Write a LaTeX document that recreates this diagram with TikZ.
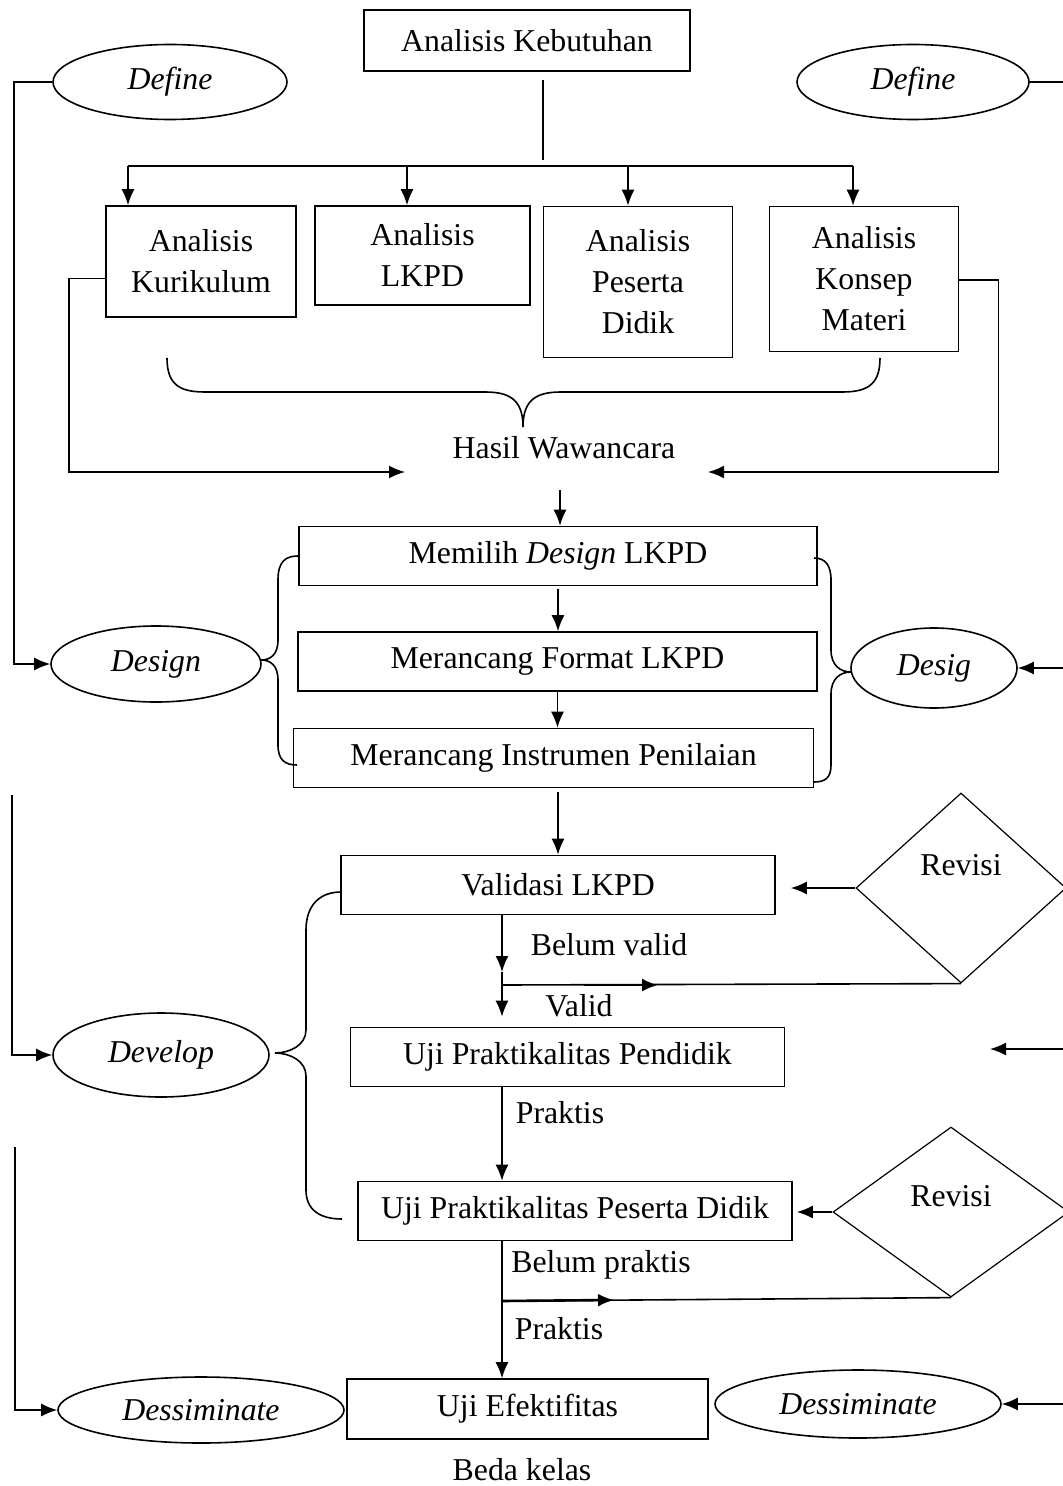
\documentclass[tikz,border=0pt]{standalone}
\usepackage{fontspec}
\setmainfont{Liberation Serif}
\usetikzlibrary{shapes.geometric, arrows.meta, positioning, calc}

\begin{document}
\begin{tikzpicture}[x=0.5pt, y=-0.5pt, font=\fontsize{15.9}{20.5}\selectfont,
    line width=0.8pt,
    blk/.style={draw, align=center, inner sep=0pt},
    elp/.style={draw, ellipse, inner sep=0pt, font=\fontsize{15.9}{20.5}\selectfont\itshape},
    rev/.style={draw, diamond, inner sep=0pt, line width=0.6pt},
    arrow/.style={-{Latex[length=8pt, width=6.5pt]}}]
    \useasboundingbox (0,0) rectangle (1063,1486);
    \clip (0,0) rectangle (1063,1486);

    % define
    \node[blk, minimum width=163pt, minimum height=30.5pt] (keb) at (527,40.5) {Analisis Kebutuhan};
    \node[elp, minimum width=117pt, minimum height=37.5pt] (defL) at (170,82) {Define};
    \node[elp, minimum width=116pt, minimum height=37.5pt] (defR) at (913,82) {Define};
    \node[blk, minimum width=95pt, minimum height=55.5pt] (kur) at (201,261.5) {Analisis\\Kurikulum};
    \node[blk, minimum width=107.5pt, minimum height=49.5pt] (lkpd) at (422.5,255.5) {Analisis\\LKPD};
    \node[blk, minimum width=94.5pt, minimum height=75.5pt] (psd) at (638,282) {Analisis\\Peserta\\Didik};
    \node[blk, minimum width=94.5pt, minimum height=72.5pt] (kon) at (864,279) {Analisis\\Konsep\\Materi};
    \node (has) at (564,448) {Hasil Wawancara};

    % design
    \node[blk, minimum width=259pt, minimum height=29.5pt] (mem) at (558,556) {Memilih \textit{Design} LKPD};
    \node[blk, minimum width=259.5pt, minimum height=29.5pt] (fmt) at (557.5,661.5) {Merancang Format LKPD};
    \node[blk, minimum width=260pt, minimum height=29.5pt] (ins) at (553.5,758) {Merancang Instrumen Penilaian};
    \node[elp, minimum width=105pt, minimum height=38pt] (desL) at (156,664) {Design};
    \node[elp, minimum width=83pt, minimum height=40pt] (desR) at (934,668) {Desig};

    % develop
    \node[blk, minimum width=217pt, minimum height=29.5pt] (val) at (558,885) {Validasi LKPD};
    \node[blk, minimum width=217pt, minimum height=29.5pt] (upp) at (567.5,1057) {Uji Praktikalitas Pendidik};
    \node[blk, minimum width=217pt, minimum height=29.5pt] (upd) at (575,1211) {Uji Praktikalitas Peserta Didik};
    \node[elp, minimum width=108pt, minimum height=42pt] (devL) at (161,1055) {Develop};
    \node[rev, minimum width=105pt, minimum height=95pt, label={[yshift=11.5pt]center:Revisi}] (revA) at (961,888) {};
    \node[rev, minimum width=118pt, minimum height=85pt, label={[yshift=8pt]center:Revisi}] (revB) at (951,1212) {};
    \node (bv) at (609,945) {Belum valid};
    \node (vl) at (579,1006) {Valid};
    \node (pr1) at (560,1113) {Praktis};
    \node (bp) at (601,1265) {Belum praktis};
    \node (pr2) at (559,1329) {Praktis};

    % dessiminate
    \node[blk, minimum width=180.5pt, minimum height=30pt] (uef) at (527.5,1409) {Uji Efektifitas};
    \node[elp, minimum width=143pt, minimum height=33pt] (disL) at (201,1410) {Dessiminate};
    \node[elp, minimum width=143pt, minimum height=34pt] (disR) at (858,1404) {Dessiminate};
    \node (bk) at (522,1470) {Beda kelas};

    % analisis kebutuhan -> four analyses
    \coordinate (kbA) at (543,80);
    \coordinate (kbB) at (543,160);
    \draw (kbA) -- (kbB);
    \coordinate (b1) at (128,166);
    \coordinate (b2) at (407,166);
    \coordinate (b3) at (628,166);
    \coordinate (b4) at (853,166);
    \draw (b1) -- (b4);
    \draw[arrow] (b1) -- (b1 |- kur.north);
    \draw[arrow] (b2) -- (b2 |- lkpd.north);
    \draw[arrow] (b3) -- (b3 |- psd.north);
    \draw[arrow] (b4) -- (b4 |- kon.north);

    % brace to hasil wawancara
    \draw (167,358) .. controls (167,385) and (180,392) .. (205,392) -- (485,392)
        .. controls (510,392) and (523,400) .. (523,427)
        .. controls (523,400) and (536,392) .. (561,392) -- (842,392)
        .. controls (867,392) and (880,385) .. (880,358);
    \coordinate (hL) at (405,472);
    \coordinate (hR) at (708,472);
    \draw[arrow] ($(kur.west)+(0,17)$) -- ++(-36,0) |- (hL);
    \draw[arrow] ($(kon.east)+(0,1)$) -- ++(39,0) |- (hR);

    % design steps
    \coordinate (hA) at (560,490);
    \draw[arrow] (hA) -- (hA |- mem.north);
    \draw[arrow, shorten <=1.5pt] (mem.south) -- (mem.south |- fmt.north);
    \draw[arrow] (fmt.south) -- (fmt.south |- ins.north);
    \draw (298,556) .. controls (285,556) and (278,562) .. (278,580) -- (278,640)
        .. controls (278,655) and (270,660) .. (261,660)
        .. controls (270,660) and (278,665) .. (278,680) -- (278,745)
        .. controls (278,760) and (285,765) .. (297,765);
    \draw (814,558) .. controls (825,558) and (831,565) .. (831,580) -- (831,650)
        .. controls (831,665) and (840,672) .. (851,672)
        .. controls (840,672) and (831,679) .. (831,694) -- (831,765)
        .. controls (831,778) and (825,782) .. (814,782);

    % develop steps
    \draw[arrow, shorten <=2pt] (ins.south -| val.north) -- (val.north);
    \coordinate (vS) at (502,985);
    \draw[arrow] (val.south -| vS) -- ($(vS)+(0,-13)$);
    \draw ($(vS)+(0,-13)$) -- (vS);
    \draw (vS) -- (revA.south);
    \draw[arrow, line width=1.1pt] ($(vS)+(82,0)$) -- ($(vS)+(156,0)$);
    \draw[arrow, shorten >=5pt] (vS) -- (vS |- upp.north);
    \draw[arrow, shorten >=7.5pt] (revA.west) -- (revA.west -| val.east);

    \coordinate (pS) at (502,1301);
    \draw[arrow] (upp.south -| pS) -- (upd.north -| pS);
    \draw (upd.south -| pS) -- (pS);
    \draw (pS) -- (revB.south);
    \draw[arrow, line width=1.3pt] (pS) -- ($(pS)+(112,-1)$);
    \draw[arrow] (pS) -- (pS |- uef.north);
    \draw[arrow, shorten >=2pt] (revB.west) -- (revB.west -| upd.east);

    \draw (341,892) .. controls (320,892) and (306,905) .. (306,930) -- (306,1030)
        .. controls (306,1045) and (290,1053) .. (275,1053)
        .. controls (290,1053) and (306,1061) .. (306,1076) -- (306,1190)
        .. controls (306,1210) and (320,1219) .. (342,1219);

    % phase lines on the sides
    \draw[arrow] (defL.west) -- ++(-38,0) |- (desL.west);
    \coordinate (lA) at (12,795);
    \draw[arrow] (lA) |- (devL.west);
    \coordinate (lB) at (15,1147);
    \draw[arrow] (lB) |- (disL.west);
    \coordinate (rA) at (1063,82);
    \draw (defR.east) -- (rA);
    \coordinate (rB) at (1063,668);
    \draw[arrow] (rB) -- (desR.east);
    \coordinate (rC) at (1063,1049);
    \coordinate (rD) at (990,1049);
    \draw[arrow] (rC) -- (rD);
    \coordinate (rE) at (1063,1404);
    \draw[arrow] (rE) -- (disR.east);
\end{tikzpicture}
\end{document}
